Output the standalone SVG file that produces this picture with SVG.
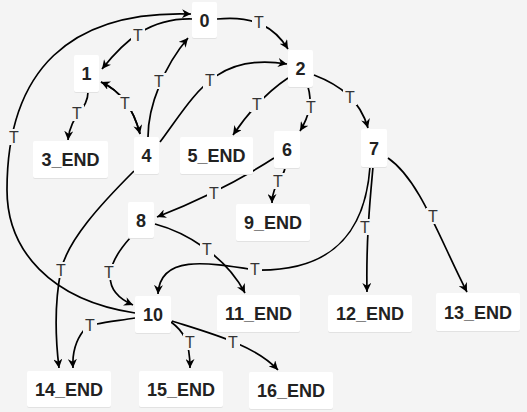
<svg xmlns="http://www.w3.org/2000/svg" width="527" height="412" viewBox="0 0 527 412">
<defs>
<marker id="arr" viewBox="0 0 10 10" refX="10" refY="5" markerWidth="9" markerHeight="9" markerUnits="userSpaceOnUse" orient="auto">
<path d="M0,0 L10,5 L0,10 L3,5 z" fill="#000"/>
</marker>
</defs>
<style>
.bg{fill:#f4f4f4}
.sh{fill:#e2e2e2}
.nd{fill:#ffffff}
.nt{font-family:"Liberation Sans",Arial,sans-serif;font-weight:bold;font-size:18px;fill:#222;text-anchor:middle}
.e{fill:none;stroke:#000;stroke-width:1.7;marker-end:url(#arr)}
.lb{fill:#f4f4f4}
.lt{font-family:"Liberation Sans",Arial,sans-serif;font-size:16px;fill:#333;text-anchor:middle}
</style>
<rect class="bg" x="0" y="0" width="527" height="412"/>
<g id="connectors">
<path class="e" d="M192,19 C150,18 125,40 102,69"/>
<path class="e" d="M135,313 C50,300 7,250 7,190 C7,70 70,10 191,14"/>
<path class="e" d="M88,92 C88,110 70,115 68,140"/>
<path class="e" d="M101,82 Q130,95 140,134"/>
<path class="e" d="M140,134 Q130,95 101,82"/>
<path class="e" d="M148,137 C148,105 165,65 188,38"/>
<path class="e" d="M160,142 C195,95 215,52 287,64"/>
<path class="e" d="M217,19 C255,15 275,28 288,49"/>
<path class="e" d="M288,78 C270,90 250,110 233,135"/>
<path class="e" d="M308,87 C312,100 310,115 300,131"/>
<path class="e" d="M314,75 C340,85 360,100 368,128"/>
<path class="e" d="M285,168 C283,180 272,185 272,203"/>
<path class="e" d="M274,158 C240,180 200,200 157,217"/>
<path class="e" d="M370,167 C365,235 330,272 255,270 C205,262 160,255 158,294"/>
<path class="e" d="M373,167 C370,200 366,240 367,292"/>
<path class="e" d="M388,158 C420,180 440,240 467,292"/>
<path class="e" d="M130,238 C112,258 95,288 133,305"/>
<path class="e" d="M155,224 C185,232 225,255 245,293"/>
<path class="e" d="M134,171 C100,205 68,240 61,270 C55,300 55,335 59,368"/>
<path class="e" d="M135,318 C110,322 90,323 84,330 C76,340 72,352 73,368"/>
<path class="e" d="M171,322 C182,330 190,340 190,368"/>
<path class="e" d="M172,321 C210,333 255,345 278,370"/>
<g id="labels">
<rect class="lb" x="131" y="27" width="14" height="16"/><text class="lt" x="138" y="41">T</text>
<rect class="lb" x="7" y="129" width="14" height="16"/><text class="lt" x="14" y="143">T</text>
<rect class="lb" x="70" y="105" width="14" height="16"/><text class="lt" x="77" y="119">T</text>
<rect class="lb" x="118" y="95" width="14" height="16"/><text class="lt" x="125" y="109">T</text>
<rect class="lb" x="152" y="73" width="14" height="16"/><text class="lt" x="159" y="87">T</text>
<rect class="lb" x="203" y="72" width="14" height="16"/><text class="lt" x="210" y="86">T</text>
<rect class="lb" x="252" y="14" width="14" height="16"/><text class="lt" x="259" y="28">T</text>
<rect class="lb" x="250" y="96" width="14" height="16"/><text class="lt" x="257" y="110">T</text>
<rect class="lb" x="304" y="99" width="14" height="16"/><text class="lt" x="311" y="113">T</text>
<rect class="lb" x="343" y="89" width="14" height="16"/><text class="lt" x="350" y="103">T</text>
<rect class="lb" x="271" y="173" width="14" height="16"/><text class="lt" x="278" y="187">T</text>
<rect class="lb" x="207" y="185" width="14" height="16"/><text class="lt" x="214" y="199">T</text>
<rect class="lb" x="248" y="261" width="14" height="16"/><text class="lt" x="255" y="275">T</text>
<rect class="lb" x="358" y="219" width="14" height="16"/><text class="lt" x="365" y="233">T</text>
<rect class="lb" x="426" y="208" width="14" height="16"/><text class="lt" x="433" y="222">T</text>
<rect class="lb" x="102" y="264" width="14" height="16"/><text class="lt" x="109" y="278">T</text>
<rect class="lb" x="200" y="241" width="14" height="16"/><text class="lt" x="207" y="255">T</text>
<rect class="lb" x="54" y="262" width="14" height="16"/><text class="lt" x="61" y="276">T</text>
<rect class="lb" x="83" y="317" width="14" height="16"/><text class="lt" x="90" y="331">T</text>
<rect class="lb" x="183" y="334" width="14" height="16"/><text class="lt" x="190" y="348">T</text>
<rect class="lb" x="226" y="334" width="14" height="16"/><text class="lt" x="233" y="348">T</text>
</g>
</g>
<g id="n0"><rect class="sh" x="192" y="3" width="25" height="36" rx="2"/><rect class="nd" x="192" y="2" width="25" height="36" rx="2"/><text class="nt" x="204.5" y="26.5">0</text></g>
<g id="n1"><rect class="sh" x="74" y="56" width="25" height="37" rx="2"/><rect class="nd" x="74" y="55" width="25" height="37" rx="2"/><text class="nt" x="86.5" y="79.5">1</text></g>
<g id="n2"><rect class="sh" x="288" y="51" width="25" height="37" rx="2"/><rect class="nd" x="288" y="50" width="25" height="37" rx="2"/><text class="nt" x="300.5" y="75">2</text></g>
<g id="n3"><rect class="sh" x="33" y="142" width="75" height="37" rx="2"/><rect class="nd" x="33" y="141" width="75" height="37" rx="2"/><text class="nt" x="70.5" y="166">3_END</text></g>
<g id="n4"><rect class="sh" x="134" y="138" width="25" height="37" rx="2"/><rect class="nd" x="134" y="137" width="25" height="37" rx="2"/><text class="nt" x="146.5" y="162">4</text></g>
<g id="n5"><rect class="sh" x="180" y="138" width="73" height="37" rx="2"/><rect class="nd" x="180" y="137" width="73" height="37" rx="2"/><text class="nt" x="216.5" y="162">5_END</text></g>
<g id="n6"><rect class="sh" x="274" y="132" width="26" height="37" rx="2"/><rect class="nd" x="274" y="131" width="26" height="37" rx="2"/><text class="nt" x="287" y="156">6</text></g>
<g id="n7"><rect class="sh" x="361" y="130" width="26" height="38" rx="2"/><rect class="nd" x="361" y="129" width="26" height="38" rx="2"/><text class="nt" x="374" y="154.5">7</text></g>
<g id="n8"><rect class="sh" x="128" y="203" width="26" height="36" rx="2"/><rect class="nd" x="128" y="202" width="26" height="36" rx="2"/><text class="nt" x="141" y="226.5">8</text></g>
<g id="n9"><rect class="sh" x="236" y="205" width="74" height="37" rx="2"/><rect class="nd" x="236" y="204" width="74" height="37" rx="2"/><text class="nt" x="273" y="229">9_END</text></g>
<g id="n10"><rect class="sh" x="135" y="297" width="36" height="37" rx="2"/><rect class="nd" x="135" y="296" width="36" height="37" rx="2"/><text class="nt" x="153" y="321">10</text></g>
<g id="n11"><rect class="sh" x="217" y="296" width="83" height="37" rx="2"/><rect class="nd" x="217" y="295" width="83" height="37" rx="2"/><text class="nt" x="258.5" y="320">11_END</text></g>
<g id="n12"><rect class="sh" x="328" y="296" width="84" height="37" rx="2"/><rect class="nd" x="328" y="295" width="84" height="37" rx="2"/><text class="nt" x="370" y="320">12_END</text></g>
<g id="n13"><rect class="sh" x="436" y="294" width="84" height="38" rx="2"/><rect class="nd" x="436" y="293" width="84" height="38" rx="2"/><text class="nt" x="478" y="318.5">13_END</text></g>
<g id="n14"><rect class="sh" x="27" y="372" width="84" height="36" rx="2"/><rect class="nd" x="27" y="371" width="84" height="36" rx="2"/><text class="nt" x="69" y="395.5">14_END</text></g>
<g id="n15"><rect class="sh" x="139" y="372" width="84" height="36" rx="2"/><rect class="nd" x="139" y="371" width="84" height="36" rx="2"/><text class="nt" x="181" y="395.5">15_END</text></g>
<g id="n16"><rect class="sh" x="249" y="373" width="84" height="37" rx="2"/><rect class="nd" x="249" y="372" width="84" height="37" rx="2"/><text class="nt" x="291" y="396.5">16_END</text></g>
</svg>
